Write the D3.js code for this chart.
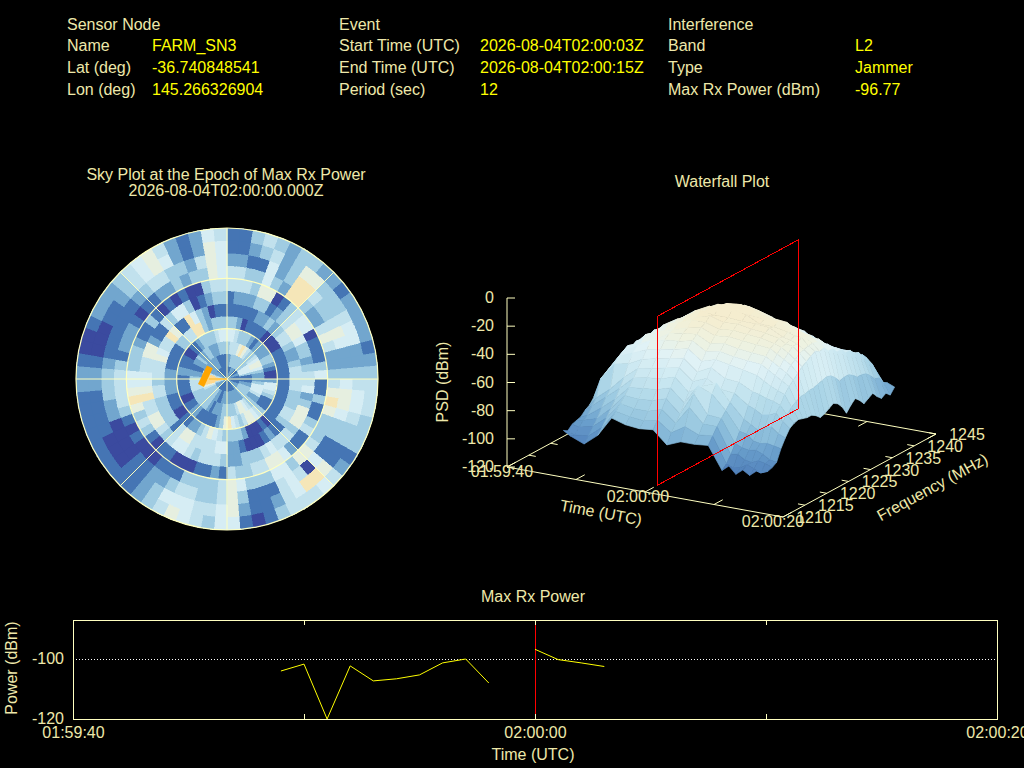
<!DOCTYPE html>
<html lang="en">
<head>
<meta charset="utf-8"/>
<style>
  html, body { margin: 0; background: #000; overflow: hidden; }
  svg { display: block; background: #000; }
  text { font-family: "Liberation Sans", Arial, sans-serif; font-size: 16px; fill: #eee8aa; }
</style>
<script src="https://d3js.org/d3.v7.min.js"></script>
</head>
<body>
<svg id="chart" width="1024" height="768"></svg>
<script>
// header block
var headerLabels = [
  ["Sensor Node", "Name", "Lat (deg)", "Lon (deg)"],
  ["Event", "Start Time (UTC)", "End Time (UTC)", "Period (sec)"],
  ["Interference", "Band", "Type", "Max Rx Power (dBm)"]
];
var headerValues = [
  ["", "FARM_SN3", "-36.740848541", "145.266326904"],
  ["", "2026-08-04T02:00:03Z", "2026-08-04T02:00:15Z", "12"],
  ["", "L2", "Jammer", "-96.77"]
];

// sky plot, one string per 5 deg azimuth sector (clockwise from north),
// each char is the colour level of a ring, inner to outer
var skyNE = ["123531144211","124531244211","134421243123","134301233134","236311365543","237312363222",
  "236212102333","234113217763","133202337762","133203443432","134204652331","155204652332",
  "256313504442","256312316652","255212314552","133113212221","112014332222","112014453333"];
var skySE = ["112214414544","113514516654","125513237654","125413316543","135313613333","234114633333",
  "232114643111","232113314112","233311416564","233401426075","224512453474","125601565554",
  "126600465444","126400343123","124320343111","123431333110","123532235321","123732246665"];
var skySW = ["123635314455","123345423343","122254413344","112164413455","112144303456","121134401354",
  "122126501233","133126511222","133214410111","233211300111","233103410001","233103631001",
  "233013640001","243013431011","364113463211","484124774211","884124664311","884123554322"];
var skyNW = ["883124554322","882224433211","482214431100","341116632100","221115622101","222114212112",
  "222014111112","223037130122","122136411233","122141301344","123241512455","123377502466",
  "122375313354","112333002322","112322103211","113430233422","113531346665","113531345554"];
var skyCells = skyNE.concat(skySE, skySW, skyNW);
var skyLevels = ["#3b4a9f", "#4575b4", "#72a6ce", "#a0cce2", "#c1e1ed", "#d6edf4", "#e6efe0", "#f5e6b8", "#fdd88f"];
var skyRingTicks = [60, 30, 0];
var skySpokes = [0, 45, 90, 135, 180, 225, 270, 315];
var jamTrackAz = [256, 305];
var jamTrackEl = [74, 77.5];

// waterfall
var wfFreq = [1215,1216,1217,1218,1219,1220,1221,1222,1223,1224,1225,1226,1227,1228,1229,1230,1231,1232,1233,1234,1235,1236,1237,1238,1239,1240,1241,1242,1243,1244,1245];
var wfTime = [5,6,8,10,12,14,16,18,20,22,24,26,28,29,30,31,32,33,34];
var wfPsd = [
  [-98,-100,-97,-96,-95,-92,-90,-86,-82,-78,-75,-74,-74,-73,-72,-73,-71,-72,-71,-70,-71,-70,-72,-71,-70,-72,-71,-72,-73,-72,-74],
  [-101,-102,-98,-95,-93,-88,-84,-72,-70,-68,-67,-65,-66,-64,-65,-63,-64,-63,-64,-62,-63,-64,-62,-64,-63,-65,-64,-65,-66,-65,-67],
  [-105,-101,-96,-92,-86,-80,-76,-60,-56,-54,-52,-54,-52,-54,-51,-54,-51,-54,-53,-55,-53,-55,-54,-56,-55,-57,-56,-58,-57,-60,-60],
  [-97,-93,-88,-83,-78,-72,-66,-58,-52,-49,-48,-44,-47,-45,-47,-44,-47,-46,-48,-46,-49,-47,-50,-48,-51,-50,-53,-52,-55,-55,-58],
  [-83,-80,-76,-72,-68,-63,-58,-53,-48,-43,-44,-40,-42,-38,-41,-38,-41,-39,-42,-39,-43,-42,-44,-44,-47,-47,-50,-50,-54,-54,-58],
  [-86,-82,-78,-73,-67,-61,-56,-51,-46,-41,-38,-37,-34,-35,-32,-34,-32,-35,-34,-36,-36,-39,-39,-43,-43,-48,-47,-52,-52,-56,-59],
  [-87,-83,-78,-72,-66,-60,-54,-49,-44,-40,-36,-34,-30,-30,-27,-29,-27,-30,-29,-32,-32,-36,-37,-42,-43,-47,-48,-53,-54,-59,-62],
  [-86,-81,-75,-69,-63,-57,-52,-47,-42,-38,-35,-32,-30,-27,-28,-25,-28,-25,-29,-29,-33,-33,-38,-39,-45,-46,-51,-52,-57,-58,-62],
  [-95,-88,-83,-78,-72,-66,-60,-55,-49,-44,-40,-36,-33,-30,-28,-24,-25,-24,-29,-29,-34,-35,-40,-42,-47,-49,-54,-55,-60,-61,-65],
  [-91,-82,-70,-62,-58,-60,-56,-50,-46,-42,-38,-35,-32,-29,-29,-26,-28,-27,-31,-32,-37,-38,-44,-45,-51,-52,-58,-59,-64,-65,-70],
  [-91,-86,-80,-75,-62,-56,-62,-56,-48,-44,-40,-36,-33,-31,-29,-31,-29,-32,-32,-37,-38,-44,-44,-48,-51,-57,-59,-64,-66,-72,-75],
  [-90,-85,-80,-76,-72,-68,-63,-57,-50,-45,-41,-37,-34,-32,-30,-31,-29,-33,-33,-38,-40,-45,-46,-52,-53,-59,-60,-66,-67,-73,-75],
  [-106,-103,-98,-92,-85,-78,-70,-62,-52,-46,-42,-38,-36,-34,-35,-33,-35,-35,-39,-41,-46,-48,-53,-54,-59,-60,-65,-66,-71,-72,-75],
  [-102,-105,-97,-94,-86,-81,-72,-63,-55,-49,-45,-41,-38,-37,-36,-35,-35,-37,-39,-43,-46,-50,-53,-56,-59,-61,-65,-66,-71,-72,-76],
  [-107,-104,-100,-95,-90,-84,-75,-65,-58,-52,-48,-44,-41,-38,-38,-35,-37,-37,-42,-43,-49,-50,-55,-56,-61,-61,-66,-66,-71,-71,-75],
  [-103,-101,-101,-94,-91,-81,-74,-66,-60,-55,-51,-47,-45,-42,-41,-40,-40,-41,-44,-46,-49,-52,-55,-57,-60,-62,-65,-68,-71,-76,-82],
  [-106,-103,-99,-96,-90,-80,-72,-68,-62,-58,-55,-52,-49,-47,-45,-43,-45,-44,-48,-48,-52,-52,-56,-56,-60,-61,-66,-69,-74,-81,-92],
  [-102,-105,-100,-99,-91,-84,-77,-74,-70,-68,-66,-66,-65,-65,-64,-63,-62,-63,-66,-70,-69,-69,-71,-74,-74,-75,-78,-82,-83,-88,-90],
  [-101,-103,-102,-100,-92,-86,-81,-79,-78,-79,-80,-80,-82,-85,-84,-82,-80,-82,-86,-92,-88,-85,-88,-92,-90,-88,-92,-95,-93,-96,-92]
];
var wfPsdStops = [-108, -95, -85, -72, -60, -48, -38, -28];
var wfPsdColors = ["#4a78b6", "#6a9fcc", "#8fc0dc", "#aed7e8", "#cbe8f1", "#e0f2f6", "#eef2e0", "#f5edcf"];
var wfZTicks = [0, -20, -40, -60, -80, -100, -120];
var wfTimeTicks = [0, 10, 20, 30, 40];
var wfTimeLabels = {0: "01:59:40", 20: "02:00:00", 40: "02:00:20"};
var wfFreqTicks = [1210, 1215, 1220, 1225, 1230, 1235, 1240, 1245];

// max rx power, seconds after 01:59:40 (null = gap)
var rxSec = [9, 10, 11, 12, 13, 14, 15, 16, 17, 18, 19, 20, 21, 22, 23];
var rxPower = [-104, -101.7, -120, -102.3, -107.3, -106.6, -105.3, -101.3, -100, -108, null, -96.77, -100.2, -101.3, -102.5];
var rxTicks = [0, 10, 20, 30, 40];
var rxTickLabels = {0: "01:59:40", 20: "02:00:00", 40: "02:00:20"};

var frameCol = "#ffffc0";
var svg = d3.select("#chart");

function label(x, y, s, anchor, fill, rot) {
  var t = svg.append("text").attr("text-anchor", anchor || "middle").text(s);
  if (fill) t.style("fill", fill);
  if (rot) t.attr("transform", "translate(" + x + "," + y + ") rotate(" + rot + ")");
  else t.attr("x", x).attr("y", y);
  return t;
}

// ---- header
var headerX = [[67, 152], [339, 480], [668, 855]];
var headerY = [30, 51, 73, 95];
headerLabels.forEach(function(col, i) {
  col.forEach(function(s, j) {
    label(headerX[i][0], headerY[j], s, "start");
    if (headerValues[i][j]) label(headerX[i][1], headerY[j], headerValues[i][j], "start", "#ffff00");
  });
});

// ---- sky plot
var skyG = svg.append("g").attr("transform", "translate(227,379)");
var elScale = d3.scaleLinear().domain([90, 0]).range([0, 151]);
var ringColour = d3.scaleOrdinal().domain(d3.range(skyLevels.length)).range(skyLevels);
var arc = d3.arc();
var cells = [];
skyCells.forEach(function(row, s) {
  row.split("").forEach(function(ch, r) { cells.push({az: s * 5, ring: r, level: +ch}); });
});
skyG.selectAll("path.cell").data(cells).enter().append("path")
  .attr("class", "cell")
  .attr("shape-rendering", "crispEdges")
  .attr("fill", function(d) { return ringColour(d.level); })
  .attr("stroke", function(d) { return ringColour(d.level); })
  .attr("stroke-width", 0.6)
  .attr("d", function(d) {
    return arc({
      innerRadius: elScale(90 - d.ring * 7.5), outerRadius: elScale(90 - (d.ring + 1) * 7.5),
      startAngle: d.az * Math.PI / 180, endAngle: (d.az + 5) * Math.PI / 180
    });
  });
skyG.selectAll("circle").data(skyRingTicks).enter().append("circle")
  .attr("r", function(d) { return elScale(d); })
  .attr("fill", "none").attr("stroke", frameCol).attr("stroke-width", 1.2);
skyG.selectAll("line").data(skySpokes).enter().append("line")
  .attr("x2", function(d) { return 151 * Math.sin(d * Math.PI / 180); })
  .attr("y2", function(d) { return -151 * Math.cos(d * Math.PI / 180); })
  .attr("stroke", frameCol).attr("stroke-width", 1);
var polar = function(az, el) {
  var a = az * Math.PI / 180, r = elScale(el);
  return [r * Math.sin(a), -r * Math.cos(a)];
};
skyG.append("path")
  .attr("d", d3.line()(jamTrackAz.map(function(a, i) { return polar(a, jamTrackEl[i]); })))
  .attr("fill", "none").attr("stroke", "#ffa500").attr("stroke-width", 6.5);
skyG.append("path")
  .attr("d", d3.line()([polar(270, 90), polar(270, 79)]))
  .attr("stroke", "#ffa500").attr("stroke-width", 1);
label(226, 180, "Sky Plot at the Epoch of Max Rx Power");
label(226, 196, "2026-08-04T02:00:00.000Z");

// ---- waterfall, affine projection of (time, freq, psd) on the page
var tNorm = d3.scaleLinear().domain([0, 40]).range([0, 1]);
var fNorm = d3.scaleLinear().domain([1210, 1245]).range([0, 1]);
var zPix = d3.scaleLinear().domain([-120, 0]).range([0, 169]);
function proj(t, f, z) {
  var a = tNorm(t), b = fNorm(f);
  return [507 + 276 * a + 153 * b, 467 + 50 * a - 83 * b - zPix(z)];
}
var psdColour = d3.scaleLinear().domain(wfPsdStops).range(wfPsdColors).clamp(true);
var floorG = svg.append("g").attr("stroke", frameCol).attr("fill", "none");
var corners = [proj(0, 1210, -120), proj(40, 1210, -120), proj(40, 1245, -120), proj(0, 1245, -120), proj(0, 1210, -120)];
floorG.append("path").attr("d", d3.line()(corners));
floorG.append("path").attr("d", d3.line()([proj(0, 1210, -120), proj(0, 1210, 0)]));
wfZTicks.forEach(function(z) {
  var p = proj(0, 1210, z);
  floorG.append("line").attr("x1", p[0]).attr("y1", p[1]).attr("x2", p[0] + 8).attr("y2", p[1]);
  label(p[0] - 13, p[1] + 5, z, "end");
});
wfTimeTicks.forEach(function(t) {
  var p = proj(t, 1210, -120), q = proj(t, 1212, -120);
  floorG.append("line").attr("x1", p[0]).attr("y1", p[1]).attr("x2", q[0]).attr("y2", q[1]);
  p = proj(t, 1245, -120); q = proj(t, 1243, -120);
  floorG.append("line").attr("x1", p[0]).attr("y1", p[1]).attr("x2", q[0]).attr("y2", q[1]);
});
wfFreqTicks.forEach(function(f) {
  var p = proj(0, f, -120), q = proj(1, f, -120);
  floorG.append("line").attr("x1", p[0]).attr("y1", p[1]).attr("x2", q[0]).attr("y2", q[1]);
  p = proj(40, f, -120); q = proj(39, f, -120);
  floorG.append("line").attr("x1", p[0]).attr("y1", p[1]).attr("x2", q[0]).attr("y2", q[1]);
});

// far to near: high freq first, early time first
var quads = [];
for (var fi = wfFreq.length - 2; fi >= 0; fi--) {
  for (var ti = 0; ti < wfTime.length - 1; ti++) quads.push([ti, fi]);
}
var quadLine = d3.line();
svg.append("g").selectAll("path").data(quads).enter().append("path")
  .each(function(q) {
    var ti = q[0], fi = q[1];
    var zs = [wfPsd[ti][fi], wfPsd[ti + 1][fi], wfPsd[ti + 1][fi + 1], wfPsd[ti][fi + 1]];
    var c = psdColour(d3.mean(zs));
    d3.select(this)
      .attr("d", quadLine([
        proj(wfTime[ti], wfFreq[fi], zs[0]), proj(wfTime[ti + 1], wfFreq[fi], zs[1]),
        proj(wfTime[ti + 1], wfFreq[fi + 1], zs[2]), proj(wfTime[ti], wfFreq[fi + 1], zs[3])
      ]) + "Z")
      .attr("fill", c).attr("stroke", c).attr("stroke-width", 0.7);
  });

var redPlane = [proj(20, 1212.8, -120), proj(20, 1245, -120), proj(20, 1245, 0), proj(20, 1212.8, 0)];
svg.append("path").attr("d", d3.line()(redPlane) + "Z")
  .attr("fill", "none").attr("stroke", "#ff0000").attr("stroke-width", 1)
  .attr("shape-rendering", "crispEdges");

wfTimeTicks.forEach(function(t) {
  if (!wfTimeLabels[t]) return;
  var p = proj(t, 1210, -120);
  label(p[0] - (t === 0 ? 5 : t === 20 ? 7 : 10), p[1] + 10, wfTimeLabels[t]);
});
wfFreqTicks.forEach(function(f) {
  var p = proj(40, f, -120);
  label(p[0] + 31, p[1] + 6, f);
});
label(722, 187, "Waterfall Plot");
label(448, 382, "PSD (dBm)", "middle", null, -90);
label(600, 518, "Time (UTC)", "middle", null, 10.5);
label(935, 492, "Frequency (MHz)", "middle", null, -28.6);

// ---- max rx power
var rxX = d3.scaleLinear().domain([0, 40]).range([73, 997]);
var rxY = d3.scaleLinear().domain([-120, -87]).range([719, 620]);
svg.append("line").attr("x1", 73).attr("x2", 997).attr("y1", rxY(-100) + 0.5).attr("y2", rxY(-100) + 0.5)
  .attr("stroke", "#ffffff").attr("stroke-dasharray", "1,2");
svg.append("line").attr("x1", rxX(20) + 0.5).attr("x2", rxX(20) + 0.5).attr("y1", 620).attr("y2", 719)
  .attr("stroke", "#ff0000");
var rxLine = d3.line()
  .defined(function(d, i) { return rxPower[i] !== null; })
  .x(function(d) { return rxX(d); })
  .y(function(d, i) { return rxY(rxPower[i]); });
svg.append("path").attr("d", rxLine(rxSec)).attr("fill", "none").attr("stroke", "#ffff00");
svg.append("rect").attr("x", 73.5).attr("y", 620.5).attr("width", 924).attr("height", 99)
  .attr("fill", "none").attr("stroke", frameCol);

var xAxis = d3.axisBottom(rxX).tickValues(rxTicks).tickSize(-5).tickSizeOuter(0)
  .tickFormat(function(d) { return rxTickLabels[d] || ""; });
var xg = svg.append("g").attr("transform", "translate(0,719)").call(xAxis);
xg.select(".domain").remove();
xg.selectAll("line").attr("stroke", frameCol);
xg.selectAll("text").attr("font-size", null).attr("dy", null).attr("y", 19);
var xTop = d3.axisTop(rxX).tickValues(rxTicks).tickSize(-5).tickFormat("");
var xg2 = svg.append("g").attr("transform", "translate(0,620)").call(xTop);
xg2.select(".domain").remove();
xg2.selectAll("line").attr("stroke", frameCol);

var yAxis = d3.axisLeft(rxY).tickValues([-100, -120]).tickSize(0).tickFormat(String);
var yg = svg.append("g").attr("transform", "translate(73,0)").call(yAxis);
yg.select(".domain").remove();
yg.selectAll("text").attr("font-size", null).attr("x", -9).attr("dy", "0.3em");

label(533, 602, "Max Rx Power");
label(533, 760, "Time (UTC)");
label(17, 668, "Power (dBm)", "middle", null, -90);
</script>
</body>
</html>
